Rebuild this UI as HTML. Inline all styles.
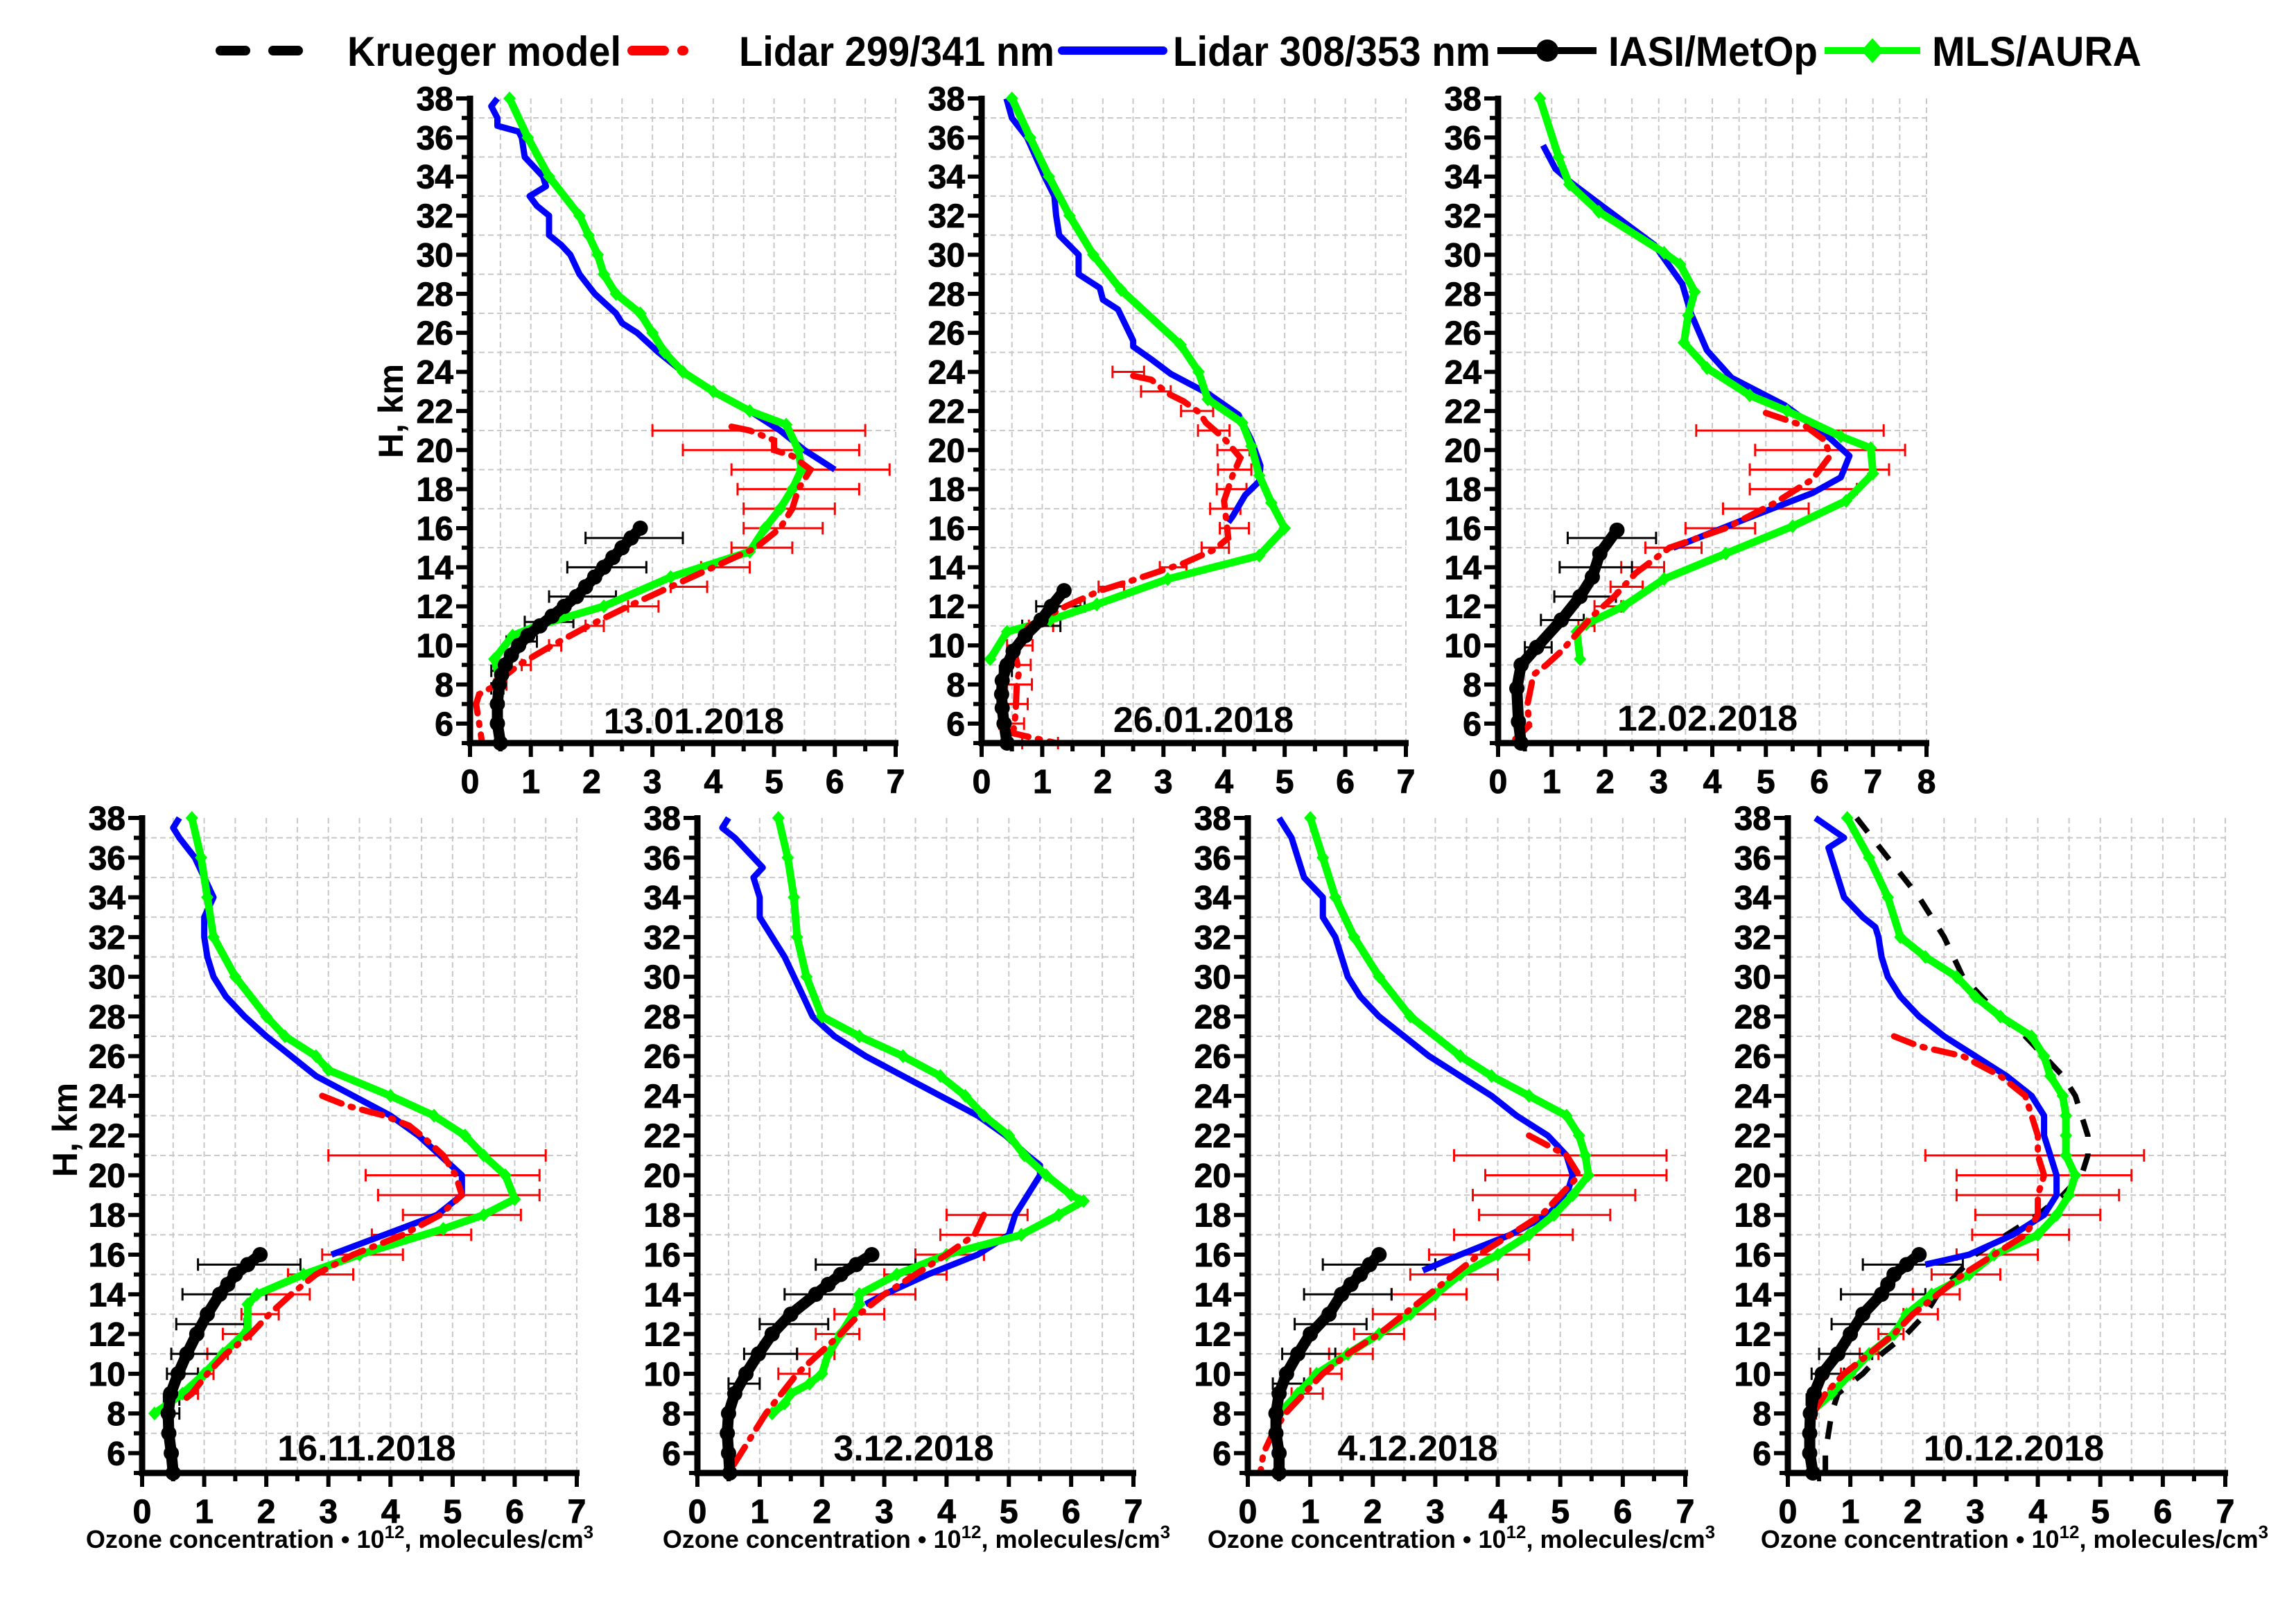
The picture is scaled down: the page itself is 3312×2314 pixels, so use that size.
<!DOCTYPE html>
<html><head><meta charset="utf-8"><style>
body{margin:0;background:#fff}
svg text{font-family:"Liberation Sans",Arial,sans-serif;font-weight:bold}
</style></head><body>
<svg id="chart" xmlns="http://www.w3.org/2000/svg" width="3312" height="2309" viewBox="0 0 3312 2309">
<rect width="3312" height="2309" fill="#fff"/>
<g id="legend">
 <g>
  <line x1="318" y1="73" x2="470" y2="73" stroke="#000" stroke-width="14" stroke-dasharray="36 40" stroke-linecap="round"/>
  <text x="501" y="95" font-size="60" textLength="395" lengthAdjust="spacingAndGlyphs">Krueger model</text></g>
 <g>
  <line x1="912" y1="73" x2="1030" y2="73" stroke="#f00" stroke-width="14" stroke-dasharray="46 26 2 60" stroke-linecap="round"/>
  <text x="1066" y="95" font-size="60" textLength="455" lengthAdjust="spacingAndGlyphs">Lidar 299/341 nm</text></g>
 <g>
  <line x1="1532" y1="73" x2="1678" y2="73" stroke="#00f" stroke-width="12" stroke-linecap="round"/>
  <text x="1692" y="95" font-size="60" textLength="458" lengthAdjust="spacingAndGlyphs">Lidar 308/353 nm</text></g>
 <g>
  <line x1="2160" y1="73" x2="2303" y2="73" stroke="#000" stroke-width="10"/>
  <circle cx="2232" cy="73" r="16" fill="#000"/>
  <text x="2320" y="95" font-size="60" textLength="302" lengthAdjust="spacingAndGlyphs">IASI/MetOp</text></g>
 <g>
  <line x1="2632" y1="73" x2="2770" y2="73" stroke="#0f0" stroke-width="10"/>
  <path d="M2701 55 L2717 73 L2701 91 L2685 73 Z" fill="#0f0"/>
  <text x="2787" y="95" font-size="60" textLength="302" lengthAdjust="spacingAndGlyphs">MLS/AURA</text></g>
</g>
<g id="panels"></g>
</svg>
<script>
// ===== Data (altitude km, ozone 1e12 molecules/cm3) =====
// Panel 1: 13.01.2018
const p1_blue_h=[38,37.6,37,36.6,36.3,36,35,34,33.5,33,32.5,32,31,30.5,30,29,28,27,26.5,26,25,24,23,22,21,20,19];
const p1_blue_v=[0.45,0.35,0.45,0.45,0.8,0.85,0.9,1.2,1.25,0.98,1.1,1.3,1.3,1.5,1.65,1.8,2.05,2.4,2.5,2.75,3.1,3.5,4.0,4.6,5.1,5.5,6.0];
const p1_green_h=[38,36,34,32,31,30,29,28,27,26,25,24,23,22,21.3,20,19,18,17,16,14.8,13.5,12,11,10.5,9.3,8.1];
const p1_green_v=[0.65,0.95,1.3,1.8,1.95,2.1,2.2,2.4,2.8,3.0,3.2,3.5,4.0,4.6,5.2,5.4,5.45,5.3,5.1,4.85,4.6,3.3,2.2,1.1,0.7,0.4,0.5];
const p1_red_h=[21.2,21,20.5,20,19.7,19,18,17,16,15,14,13,12,11,10,9,8.5,8,7.5,7,6,5];
const p1_red_v=[4.3,4.6,5.0,5.0,5.3,5.6,5.4,5.3,5.1,4.7,4.0,3.3,2.6,1.95,1.35,0.8,0.6,0.45,0.15,0.1,0.15,0.2];
const p1_iasi_h=[16,15.5,15,14.5,14,13.5,13,12.5,12,11.5,11,10.5,10,9.5,9,8.5,8,7,6,5];
const p1_iasi_v=[2.8,2.65,2.5,2.35,2.2,2.05,1.9,1.75,1.55,1.35,1.15,0.95,0.8,0.68,0.58,0.52,0.48,0.45,0.45,0.5];
const p1_rerr_h=[21,20,19,18,17,16,15,14,13,12,11,10,9,8];
const p1_rerr_lo=[3.0,3.5,4.3,4.4,4.5,4.5,4.3,3.8,3.3,2.6,1.9,1.3,0.85,0.4];
const p1_rerr_hi=[6.5,6.4,6.9,6.4,6.0,5.8,5.3,4.6,3.9,3.1,2.2,1.5,1.0,0.6];
const p1_berr_h=[15.5,14,12.5,11.2,10.2,8.7,7.8];
const p1_berr_lo=[1.9,1.6,1.3,0.9,0.6,0.35,0.35];
const p1_berr_hi=[3.5,2.9,2.4,1.7,1.1,0.6,0.55];
const p1_kr_h=[];const p1_kr_v=[];
// Panel 2: 26.01.2018
const p2_blue_h=[38,37,36,34,33,32,31,30,29,28.3,27.7,27.2,26.5,25.6,25.3,24.6,23.9,22.9,21.8,20.5,19.2,18.4,17.7,16.6,16.3];
const p2_blue_v=[0.41,0.5,0.75,1.04,1.2,1.23,1.28,1.6,1.6,1.95,2.0,2.25,2.36,2.5,2.5,2.82,3.12,3.73,4.24,4.45,4.6,4.58,4.35,4.14,4.07];
const p2_green_h=[38,36,34,32,30,28.2,25.4,24,22.6,21.4,20.2,18.7,17.3,16,14.6,13.4,12.1,11.3,10.7,9.3];
const p2_green_v=[0.5,0.8,1.11,1.45,1.84,2.3,3.28,3.58,3.73,4.3,4.45,4.58,4.78,5.0,4.58,3.07,1.9,1.13,0.42,0.14];
const p2_red_h=[23.8,23.6,22.9,22.5,21.9,21.4,20.6,19.6,18.7,17.4,15.5,14.9,14.2,13.3,12.8,12,11,9.9,8.7,8,6.5,5.5,5];
const p2_red_v=[2.5,2.8,3.07,3.33,3.6,3.7,4.0,4.27,4.14,4.0,4.07,3.84,3.33,2.46,1.95,1.39,0.78,0.52,0.62,0.58,0.56,0.52,1.23];
const p2_iasi_h=[12.8,12,11.3,10.5,9.7,9,8.2,7.5,6.8,6,5];
const p2_iasi_v=[1.36,1.15,0.98,0.72,0.52,0.42,0.34,0.33,0.34,0.37,0.42];
const p2_rerr_h=[24,23,22,21,20,19,18,17,16,15,14,13,12,11,10,9,8,7,6,5];
const p2_rerr_lo=[2.16,2.63,3.29,3.57,3.89,3.9,3.88,3.77,3.93,3.63,2.94,1.93,1.22,0.78,0.42,0.41,0.42,0.36,0.29,0.67];
const p2_rerr_hi=[2.68,3.12,3.82,4.09,4.42,4.45,4.37,4.27,4.41,4.08,3.38,2.35,1.63,1.18,0.84,0.81,0.83,0.76,0.7,1.26];
const p2_berr_h=[12,11,8.7];
const p2_berr_lo=[0.9,0.67,0.3];
const p2_berr_hi=[1.7,1.3,0.5];
const p2_kr_h=[];const p2_kr_v=[];
// Panel 3: 12.02.2018
const p3_blue_h=[35.6,34.4,33.7,32.5,30.5,28.5,27,25.1,23.7,22.3,20.6,19.7,18.6,17.8,16.7,15];
const p3_blue_v=[0.84,1.07,1.36,1.94,2.92,3.44,3.6,3.9,4.36,5.35,6.2,6.56,6.4,5.87,4.83,3.27];
const p3_green_h=[38,35,33.6,32.2,30.1,29.5,28.1,26.9,25.5,24.2,22.8,22,20.7,20.1,18.8,17.4,16.1,14.7,13.4,12,11.1,10.7,9.3];
const p3_green_v=[0.78,1.13,1.33,1.88,3.1,3.4,3.67,3.55,3.47,3.9,4.7,5.4,6.4,6.96,7.0,6.5,5.5,4.25,3.1,2.34,1.65,1.47,1.53];
const p3_red_h=[21.9,21.2,20.5,19.7,18.5,17.3,16,15,13.7,12.5,11.5,9.7,9,8.5,7,5.9,5.2];
const p3_red_v=[5.0,5.75,6.1,6.2,5.87,5.17,4.25,3.2,2.57,2.17,1.76,1.18,0.9,0.66,0.55,0.58,0.32];
const p3_iasi_h=[15.9,14.7,13.5,12.5,11.3,9.9,9,7.8,6.1,5];
const p3_iasi_v=[2.22,1.9,1.76,1.53,1.18,0.72,0.43,0.35,0.38,0.43];
const p3_rerr_h=[21,20,19,18,17,16,15,14,13,12,11];
const p3_rerr_lo=[3.7,4.8,4.7,4.7,4.2,3.5,2.75,2.3,2.1,1.8,1.5];
const p3_rerr_hi=[7.2,7.6,7.3,6.7,5.8,4.8,3.8,3.1,2.7,2.3,1.8];
const p3_berr_h=[15.5,14,12.5,11.3,9.9];
const p3_berr_lo=[1.3,1.15,1.05,0.8,0.5];
const p3_berr_hi=[2.95,2.5,2.2,1.6,1.0];
const p3_kr_h=[];const p3_kr_v=[];
// Panel 4: 16.11.2018
const p4_blue_h=[38,37.5,37,36,35,34,33,32,31,30,29,28,27,26,25,24,23,22,21,20,19,18,17,16];
const p4_blue_v=[0.6,0.5,0.6,0.85,1.0,1.15,1.0,1.0,1.05,1.15,1.35,1.65,2.0,2.4,2.8,3.4,4.0,4.45,4.8,5.15,5.15,4.75,3.9,3.05];
const p4_green_h=[38,36,34,32,30,28,27,26,25.3,24,23,22,21,20,18.8,18,17.3,16,15,14,13.5,12.2,11,10,9,8];
const p4_green_v=[0.8,0.95,1.05,1.15,1.5,2.0,2.3,2.8,3.0,4.0,4.7,5.2,5.5,5.85,6.0,5.5,4.85,3.5,2.6,1.85,1.7,1.7,1.3,1.0,0.65,0.2];
const p4_red_h=[24,23.5,23,22.5,22,21,20,19,18,17,16,15,14,13,12,11,10,9,8.5];
const p4_red_v=[2.9,3.3,3.9,4.3,4.5,4.85,5.05,5.15,4.8,4.2,3.4,2.8,2.4,2.05,1.75,1.35,1.05,0.8,0.6];
const p4_iasi_h=[16,15.5,15,14.5,14,13,12,11,10,9,8,7,6,5];
const p4_iasi_v=[1.9,1.7,1.5,1.38,1.25,1.05,0.88,0.72,0.58,0.46,0.42,0.43,0.47,0.5];
const p4_rerr_h=[21,20,19,18,17,16,15,14,13,12,11,10,9];
const p4_rerr_lo=[3.0,3.6,3.8,4.2,3.7,2.9,2.35,2.0,1.6,1.3,1.05,0.9,0.7];
const p4_rerr_hi=[6.5,6.4,6.4,6.1,5.3,4.2,3.4,2.7,2.2,1.75,1.38,1.15,0.9];
const p4_berr_h=[15.5,14,12.5,11,10,8.7,8];
const p4_berr_lo=[0.9,0.65,0.55,0.47,0.4,0.35,0.35];
const p4_berr_hi=[2.55,2.0,1.65,1.3,0.9,0.6,0.6];
const p4_kr_h=[];const p4_kr_v=[];
// Panel 5: 3.12.2018
const p5_blue_h=[38,37.5,37,36,35.5,35,34,33,32,31,30,29,28,27,26,25,24,23,22,21,20.5,20,19,18,17,16,15,14,13.5];
const p5_blue_v=[0.5,0.4,0.6,0.9,1.05,0.9,1.0,1.0,1.2,1.4,1.55,1.7,1.85,2.2,2.7,3.3,3.9,4.5,4.95,5.3,5.5,5.5,5.3,5.1,5.0,4.5,3.7,3.0,2.7];
const p5_green_h=[38,36,34,32,30,28,27,26,25,24,23,22,21,20,19,18.7,18,17,16,15,14,13.5,13,12,11,10,9.5,9,8.5,8];
const p5_green_v=[1.3,1.45,1.55,1.6,1.75,2.0,2.6,3.3,3.9,4.3,4.6,5.0,5.25,5.6,6.0,6.2,5.8,5.2,4.0,3.2,2.6,2.6,2.5,2.3,2.1,2.0,1.8,1.5,1.4,1.2];
const p5_red_h=[18,17,16,15,14,13,12,11,10,9,8,7,6,5.5,5];
const p5_red_v=[4.6,4.45,4.0,3.5,3.0,2.6,2.3,1.95,1.6,1.35,1.1,0.9,0.7,0.6,0.5];
const p5_iasi_h=[16,15.5,15,14.5,14,13,12,11,10,9,8,7,6,5];
const p5_iasi_v=[2.8,2.55,2.3,2.1,1.9,1.5,1.2,0.98,0.78,0.6,0.5,0.48,0.5,0.52];
const p5_rerr_h=[18,17,16,15,14,13,12,11,10];
const p5_rerr_lo=[4.0,3.9,3.5,3.0,2.6,2.2,1.9,1.6,1.3];
const p5_rerr_hi=[5.3,5.2,4.6,4.0,3.5,3.0,2.6,2.2,1.8];
const p5_berr_h=[15.5,14,12.5,11,9.5];
const p5_berr_lo=[1.9,1.4,1.0,0.75,0.5];
const p5_berr_hi=[3.5,2.6,2.1,1.6,1.0];
const p5_kr_h=[];const p5_kr_v=[];
// Panel 6: 4.12.2018
const p6_blue_h=[38,37,36,35,34,33,32,31,30,29,28,27,26,25,24,23,22,21,20,19,18,17,16,15.2];
const p6_blue_v=[0.5,0.7,0.8,0.9,1.2,1.2,1.4,1.5,1.6,1.8,2.1,2.5,2.9,3.4,3.9,4.3,4.8,5.1,5.2,5.1,4.8,4.2,3.4,2.8];
const p6_green_h=[38,36,34,32,30,28,26,25,24,23,22,21,20,19,18,17,16,15,14,13,12,11,10,9,8];
const p6_green_v=[1.0,1.2,1.4,1.7,2.1,2.6,3.4,3.9,4.5,5.1,5.3,5.4,5.45,5.2,4.9,4.5,4.0,3.4,3.0,2.6,2.1,1.6,1.1,0.8,0.5];
const p6_red_h=[22,21,20,19,18,17,16,15,14,13,12,11,10,9,8,7,6,5];
const p6_red_v=[4.5,5.1,5.3,5.0,4.7,4.2,3.7,3.3,2.9,2.5,2.1,1.6,1.2,0.9,0.6,0.4,0.25,0.2];
const p6_iasi_h=[16,15.5,15,14.5,14,13,12,11,10,9,8,7,6,5];
const p6_iasi_v=[2.1,1.95,1.8,1.65,1.5,1.3,1.0,0.8,0.62,0.5,0.45,0.45,0.5,0.5];
const p6_rerr_h=[21,20,19,18,17,16,15,14,13,12,11,10,9];
const p6_rerr_lo=[3.3,3.8,3.6,3.7,3.3,2.9,2.6,2.3,2.0,1.7,1.3,1.0,0.7];
const p6_rerr_hi=[6.7,6.7,6.2,5.8,5.2,4.5,4.0,3.5,3.0,2.5,2.0,1.5,1.2];
const p6_berr_h=[15.5,14,12.5,11,9.5];
const p6_berr_lo=[1.2,0.9,0.75,0.55,0.4];
const p6_berr_hi=[3.0,2.3,1.9,1.4,0.9];
const p6_kr_h=[];const p6_kr_v=[];
// Panel 7: 10.12.2018
const p7_blue_h=[38,37,36.5,36,35,34,33,32.5,32,31,30,29,28,27,26,25,24,23,22,21,20,19,18,17,16,15.5];
const p7_blue_v=[0.44,0.9,0.65,0.7,0.8,0.9,1.2,1.4,1.45,1.5,1.6,1.8,2.1,2.5,3.0,3.5,3.9,4.1,4.1,4.2,4.3,4.3,4.1,3.6,2.9,2.2];
const p7_green_h=[38,36,34,32,31,30,29,28,27,26,25,24,23,22,21,20,19,18,17,16,15,14,13,12,11,10,9,8];
const p7_green_v=[0.95,1.3,1.6,1.8,2.2,2.7,3.0,3.4,3.9,4.1,4.2,4.4,4.45,4.45,4.45,4.6,4.5,4.3,4.0,3.3,2.9,2.3,1.9,1.7,1.3,1.0,0.7,0.35];
const p7_red_h=[27,26.5,26,25,24,23,22,21,20,19,18,17,16,15,14,13,12,11,10,9,8,7];
const p7_red_v=[1.7,2.1,2.8,3.4,3.8,3.9,4.0,4.0,4.1,4.0,4.0,3.8,3.3,2.8,2.4,2.0,1.7,1.3,0.9,0.6,0.4,0.3];
const p7_iasi_h=[16,15.5,15,14.5,14,13,12,11,10,9,8,7,6,5];
const p7_iasi_v=[2.1,1.9,1.7,1.6,1.5,1.2,1.0,0.8,0.55,0.42,0.36,0.35,0.35,0.4];
const p7_rerr_h=[21,20,19,18,17,16,15,14,13,12,11,10,9,8];
const p7_rerr_lo=[2.2,2.7,2.7,3.0,2.95,2.7,2.3,2.0,1.85,1.45,1.15,0.85,0.65,0.35];
const p7_rerr_hi=[5.7,5.5,5.3,5.0,4.5,4.0,3.4,2.75,2.4,1.85,1.45,1.05,0.8,0.45];
const p7_berr_h=[15.5,14,12.5,11,10,8.7];
const p7_berr_lo=[1.2,0.85,0.7,0.5,0.38,0.3];
const p7_berr_hi=[2.8,2.2,1.8,1.35,0.9,0.5];
const p7_kr_h=[38,36,34,32,30,29,28,27,26,25,24,23,22,21,20,19,18,17,16,15,14,13,12,11,10,9,8,7,6,5];
const p7_kr_v=[1.1,1.6,2.1,2.5,2.8,3.1,3.4,3.8,4.1,4.4,4.6,4.7,4.8,4.8,4.7,4.4,4.0,3.5,3.0,2.7,2.4,2.2,1.9,1.5,1.2,0.8,0.7,0.65,0.6,0.6];
const dates=["13.01.2018","26.01.2018","12.02.2018","16.11.2018","3.12.2018","4.12.2018","10.12.2018"];
const yTicks=[6,8,10,12,14,16,18,20,22,24,26,28,30,32,34,36,38];

const NS="http://www.w3.org/2000/svg";
function mk(tag,attrs,parent){const e=document.createElementNS(NS,tag);for(const k in attrs)e.setAttribute(k,attrs[k]);parent.appendChild(e);return e;}
const layout=[
 {x0:678,x1:1292,xmax:7,y0:142,y1:1072,dx:1001,dy:1058,ylab:[563,593],xt:null},
 {x0:1416,x1:2028,xmax:7,y0:142,y1:1072,dx:1736,dy:1056,ylab:null,xt:null},
 {x0:2161,x1:2779,xmax:8,y0:142,y1:1072,dx:2463,dy:1054,ylab:null,xt:null},
 {x0:205,x1:832,xmax:7,y0:1180,y1:2125,dx:529,dy:2107,ylab:[93,1630],xt:490},
 {x0:1006,x1:1635,xmax:7,y0:1180,y1:2125,dx:1318,dy:2107,ylab:null,xt:1322},
 {x0:1800,x1:2431,xmax:7,y0:1180,y1:2125,dx:2045,dy:2107,ylab:null,xt:2108},
 {x0:2579,x1:3210,xmax:7,y0:1180,y1:2125,dx:2905,dy:2107,ylab:null,xt:2906}
];
const data=[
 [p1_blue_h,p1_blue_v,p1_green_h,p1_green_v,p1_red_h,p1_red_v,p1_iasi_h,p1_iasi_v,p1_rerr_h,p1_rerr_lo,p1_rerr_hi,p1_berr_h,p1_berr_lo,p1_berr_hi,p1_kr_h,p1_kr_v],
 [p2_blue_h,p2_blue_v,p2_green_h,p2_green_v,p2_red_h,p2_red_v,p2_iasi_h,p2_iasi_v,p2_rerr_h,p2_rerr_lo,p2_rerr_hi,p2_berr_h,p2_berr_lo,p2_berr_hi,p2_kr_h,p2_kr_v],
 [p3_blue_h,p3_blue_v,p3_green_h,p3_green_v,p3_red_h,p3_red_v,p3_iasi_h,p3_iasi_v,p3_rerr_h,p3_rerr_lo,p3_rerr_hi,p3_berr_h,p3_berr_lo,p3_berr_hi,p3_kr_h,p3_kr_v],
 [p4_blue_h,p4_blue_v,p4_green_h,p4_green_v,p4_red_h,p4_red_v,p4_iasi_h,p4_iasi_v,p4_rerr_h,p4_rerr_lo,p4_rerr_hi,p4_berr_h,p4_berr_lo,p4_berr_hi,p4_kr_h,p4_kr_v],
 [p5_blue_h,p5_blue_v,p5_green_h,p5_green_v,p5_red_h,p5_red_v,p5_iasi_h,p5_iasi_v,p5_rerr_h,p5_rerr_lo,p5_rerr_hi,p5_berr_h,p5_berr_lo,p5_berr_hi,p5_kr_h,p5_kr_v],
 [p6_blue_h,p6_blue_v,p6_green_h,p6_green_v,p6_red_h,p6_red_v,p6_iasi_h,p6_iasi_v,p6_rerr_h,p6_rerr_lo,p6_rerr_hi,p6_berr_h,p6_berr_lo,p6_berr_hi,p6_kr_h,p6_kr_v],
 [p7_blue_h,p7_blue_v,p7_green_h,p7_green_v,p7_red_h,p7_red_v,p7_iasi_h,p7_iasi_v,p7_rerr_h,p7_rerr_lo,p7_rerr_hi,p7_berr_h,p7_berr_lo,p7_berr_hi,p7_kr_h,p7_kr_v]
];
const root=document.getElementById('panels');
layout.forEach((L,i)=>{
 const d=data[i];
 const X=v=>L.x0+(L.x1-L.x0)*v/L.xmax;
 const Y=h=>L.y1-(L.y1-L.y0)*(h-5)/33;
 const g=mk('g',{},root);
 
 
 const grid=mk('g',{stroke:'#c8c8c8','stroke-width':2,'stroke-dasharray':'8 5'},g);
 
 
 for(let v=0.5;v<=L.xmax;v+=0.5){mk('line',{x1:X(v),x2:X(v),y1:Y(38),y2:L.y1},grid);}
 for(let h=7;h<=37;h+=2){mk('line',{x1:L.x0,x2:X(L.xmax),y1:Y(h),y2:Y(h)},grid);}
 const path=(hs,vs)=>hs.map((h,k)=>(k?'L':'M')+X(vs[k]).toFixed(1)+' '+Y(h).toFixed(1)).join(' ');
 const eb=(hs,lo,hi,col,nm)=>{const e=mk('g',{stroke:col,'stroke-width':3},g);
  
  
  hs.forEach((h,k)=>{const y=Y(h);mk('line',{x1:X(lo[k]),x2:X(hi[k]),y1:y,y2:y},e);
   mk('line',{x1:X(lo[k]),x2:X(lo[k]),y1:y-9,y2:y+9},e);mk('line',{x1:X(hi[k]),x2:X(hi[k]),y1:y-9,y2:y+9},e);});};
 eb(d[8],d[9],d[10],'#f00','lidar-299-error-bars');
 eb(d[11],d[12],d[13],'#000','iasi-error-bars');
 if(d[14].length){const k=mk('path',{d:path(d[14],d[15]),fill:'none',stroke:'#000','stroke-width':8,'stroke-dasharray':'26 24'},g);
  
  }
 const b=mk('path',{d:path(d[0],d[1]),fill:'none',stroke:'#00f','stroke-width':9,'stroke-linejoin':'round'},g);
 
 
 const gr=mk('path',{d:path(d[2],d[3]),fill:'none',stroke:'#0f0','stroke-width':11,'stroke-linejoin':'round'},g);
 
 
 d[2].forEach((h,k)=>{const x=X(d[3][k]),y=Y(h);const m=mk('path',{d:`M${x} ${y-10}L${x+9} ${y}L${x} ${y+10}L${x-9} ${y}Z`,fill:'#0f0'},g);
  
  });
 const r=mk('path',{d:path(d[4],d[5]),fill:'none',stroke:'#f00','stroke-width':9,'stroke-dasharray':'30 14 3 14','stroke-linecap':'round'},g);
 
 
 const ia=mk('path',{d:path(d[6],d[7]),fill:'none',stroke:'#000','stroke-width':16,'stroke-linecap':'round','stroke-linejoin':'round'},g);
 
 
 d[6].forEach((h,k)=>{const c=mk('circle',{cx:X(d[7][k]),cy:Y(h),r:11,fill:'#000'},g);
  
  });
 const ax=mk('g',{stroke:'#000'},g);
 
 
 mk('line',{x1:L.x0,x2:L.x0,y1:Y(38)-4,y2:L.y1+4,'stroke-width':9},ax);
 mk('line',{x1:L.x0-4,x2:X(L.xmax)+4,y1:L.y1,y2:L.y1,'stroke-width':9},ax);
 for(let h=5;h<=38;h++){const maj=h%2===0;mk('line',{x1:L.x0-(maj?20:12),x2:L.x0,y1:Y(h),y2:Y(h),'stroke-width':6},ax);}
 for(let v=0;v<=L.xmax*2;v++){const maj=v%2===0;mk('line',{x1:X(v/2),x2:X(v/2),y1:L.y1,y2:L.y1+(maj?20:12),'stroke-width':6},ax);}
 yTicks.forEach(t=>{const tx=mk('text',{x:L.x0-24,y:Y(t)+17,'font-size':48,'text-anchor':'end',stroke:'#000','stroke-width':1},g);tx.textContent=t;
  
  });
 for(let v=0;v<=L.xmax;v++){const tx=mk('text',{x:X(v),y:L.y1+72,'font-size':48,'text-anchor':'middle',stroke:'#000','stroke-width':1},g);tx.textContent=v;
  
  }
 const dt=mk('text',{x:L.dx,y:L.dy,'font-size':52,'text-anchor':'middle'},g);dt.textContent=dates[i];
 
 
 if(L.ylab){const yl=mk('text',{x:0,y:0,'font-size':50,'text-anchor':'middle',transform:`translate(${L.ylab[0]+18},${L.ylab[1]}) rotate(-90)`},g);yl.textContent='H, km';
  
  }
 if(L.xt){const xt=mk('text',{x:L.xt,y:2233,'font-size':36,'text-anchor':'middle'},g);
  
  
  xt.innerHTML='Ozone concentration • 10<tspan dy="-14" font-size="26">12</tspan><tspan dy="14">, molecules/cm</tspan><tspan dy="-14" font-size="26">3</tspan>';}
});
</script>
</body></html>
